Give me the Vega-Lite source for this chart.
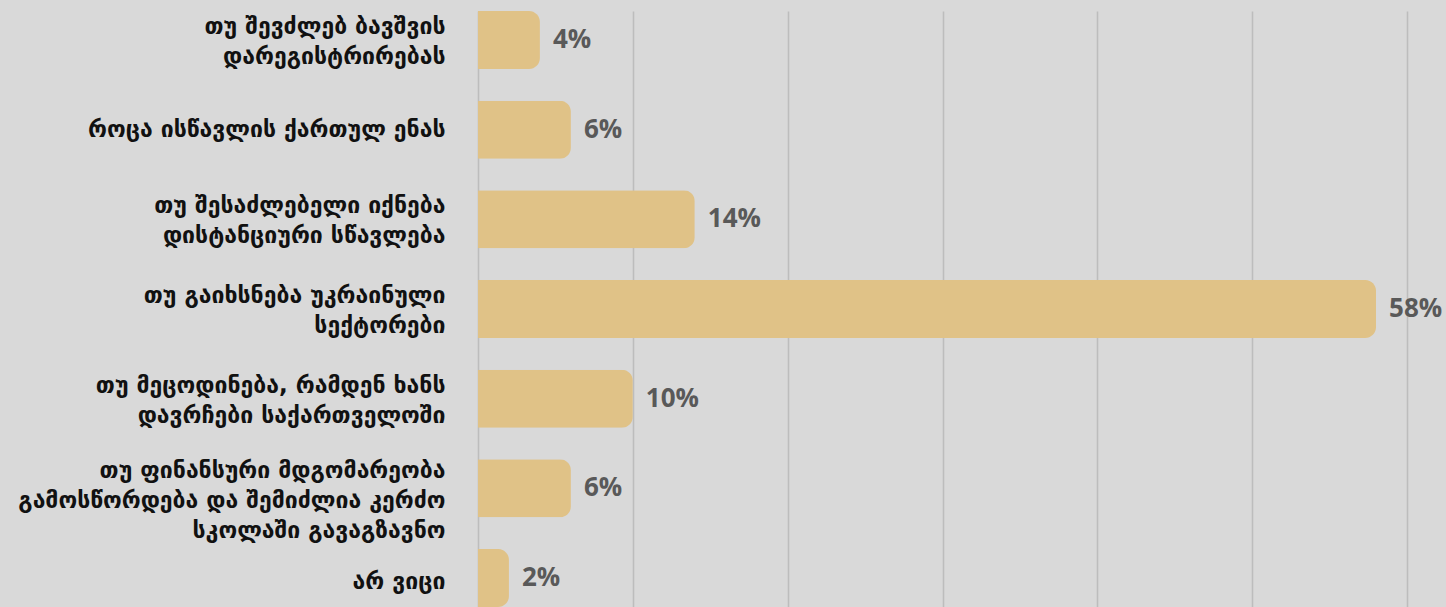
{
  "$schema": "https://vega.github.io/schema/vega-lite/v6.json",
  "width": 929,
  "height": 596,
  "autosize": {"type": "none"},
  "padding": {"left": 478, "top": 11, "right": 39, "bottom": 0},
  "background": "#d9d9d9",
  "config": {"view": {"stroke": null}},
  "data": {
    "values": [
      {"reason": "თუ შევძლებ ბავშვის\nდარეგისტრირებას", "pct": 4, "label": "4%"},
      {"reason": "როცა ისწავლის ქართულ ენას", "pct": 6, "label": "6%"},
      {"reason": "თუ შესაძლებელი იქნება\nდისტანციური სწავლება", "pct": 14, "label": "14%"},
      {"reason": "თუ გაიხსნება უკრაინული\nსექტორები", "pct": 58, "label": "58%"},
      {"reason": "თუ მეცოდინება, რამდენ ხანს\nდავრჩები საქართველოში", "pct": 10, "label": "10%"},
      {"reason": "თუ ფინანსური მდგომარეობა\u00a0\nგამოსწორდება და შემიძლია კერძო\u00a0\nსკოლაში გავაგზავნო", "pct": 6, "label": "6%"},
      {"reason": "არ ვიცი", "pct": 2, "label": "2%"}
    ]
  },
  "encoding": {
    "y": {
      "field": "reason",
      "type": "nominal",
      "sort": null,
      "title": null,
      "scale": {"paddingInner": 0.353, "paddingOuter": 0},
      "axis": {
        "labelExpr": "split(datum.label, '\\n')",
        "labelFont": "DejaVu Sans",
        "labelFontWeight": "bold",
        "labelFontSize": 23,
        "labelColor": "#111111",
        "labelLineHeight": 30,
        "labelPadding": 33,
        "labelLimit": 480,
        "labelOffset": {
          "condition": [
            {"test": "length(split(datum.value, '\\n')) == 3", "value": -17},
            {"test": "length(split(datum.value, '\\n')) == 2", "value": -13},
            {"test": "datum.value == 'არ ვიცი'", "value": 4}
          ],
          "value": 0
        },
        "ticks": false,
        "domain": false
      }
    },
    "x": {
      "field": "pct",
      "type": "quantitative",
      "title": null,
      "scale": {"domain": [0, 60], "nice": false},
      "axis": {
        "values": [0, 10, 20, 30, 40, 50, 60],
        "labels": false,
        "ticks": false,
        "domain": false,
        "grid": true,
        "gridColor": "#bdbdbd",
        "gridWidth": 1.5
      }
    }
  },
  "layer": [
    {
      "mark": {"type": "bar", "color": "#e0c287", "cornerRadiusEnd": 11}
    },
    {
      "mark": {
        "type": "text",
        "align": "left",
        "baseline": "middle",
        "dx": 13,
        "font": "Open Sans",
        "fontWeight": "bold",
        "fontSize": 26,
        "color": "#595959"
      },
      "encoding": {"text": {"field": "label"}}
    }
  ]
}
